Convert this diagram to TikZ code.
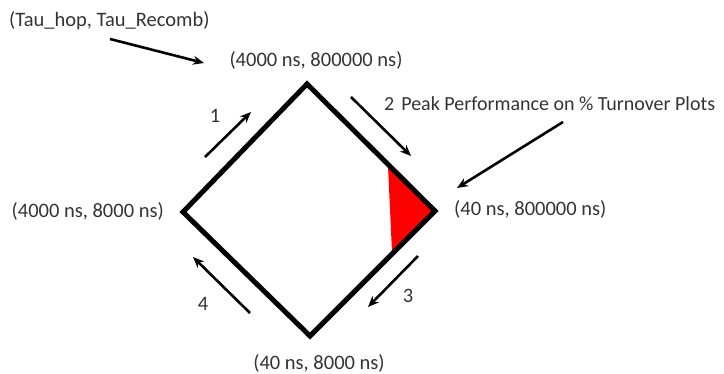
\documentclass[tikz,border=0pt]{standalone}
\usepackage{fontspec}
\setmainfont{Carlito}
\usepackage{xcolor}
\usetikzlibrary{arrows.meta,positioning,calc}
\definecolor{peakred}{RGB}{255,0,0}

\begin{document}
\begin{tikzpicture}[
        x=1pt, y=-1pt,
        lbl/.style={inner sep=1pt, font=\fontsize{20.5}{24}\selectfont, text=black!80},
        edge/.style={line width=5pt, line join=miter},
        arr/.style={-{Stealth[length=11pt, width=9pt]}, line width=2.6pt}
    ]
    \useasboundingbox (0,0) rectangle (724,374);

    % diamond corners
    \coordinate (top) at (307,84);
    \coordinate (left) at (183,212);
    \coordinate (right) at (435,211);
    \coordinate (bottom) at (310,336);

    % peak region
    \coordinate (peaktop) at (388,166);
    \coordinate (peakbot) at (392,252);
    \fill[peakred] (peaktop) -- (right) -- (peakbot) -- cycle;

    \draw[edge] (top) -- (right) -- (bottom) -- (left) -- cycle;

    % corner labels
    \node[lbl] (tl) at (316,60) {(4000 ns, 800000 ns)};
    \node[lbl, anchor=east] (ll) at (165,211) {(4000 ns, 8000 ns)};
    \node[lbl, anchor=west] (rl) at (453,209) {(40 ns, 800000 ns)};
    \node[lbl] (bl) at (319,363) {(40 ns, 8000 ns)};
    \node[lbl, anchor=west] (tau) at (8,21) {(Tau\_hop, Tau\_Recomb)};
    \node[lbl, anchor=west, font=\fontsize{20}{24}\selectfont] (peak) at (383,104) {2\hspace{7pt}Peak Performance on \% Turnover Plots};

    % step numbers
    \node[lbl] (n1) at (215,116) {1};
    \node[lbl] (n3) at (408,296) {3};
    \node[lbl] (n4) at (203,304) {4};

    % arrow ends
    \coordinate (a1s) at (205,157);
    \coordinate (a1e) at (251,112);
    \coordinate (a2s) at (351,97);
    \coordinate (a2e) at (411,156);
    \coordinate (a3s) at (418,256);
    \coordinate (a3e) at (368,307);
    \coordinate (a4s) at (250,313);
    \coordinate (a4e) at (193,257);
    \coordinate (taus) at (110,39);
    \coordinate (taue) at (204,63);
    \coordinate (peaks) at (563,122);
    \coordinate (peake) at (457,188);

    \draw[arr] (a1s) -- (a1e);
    \draw[arr] (a2s) -- (a2e);
    \draw[arr] (a3s) -- (a3e);
    \draw[arr] (a4s) -- (a4e);
    \draw[arr] (taus) -- (taue);
    \draw[arr] (peaks) -- (peake);
\end{tikzpicture}
\end{document}
